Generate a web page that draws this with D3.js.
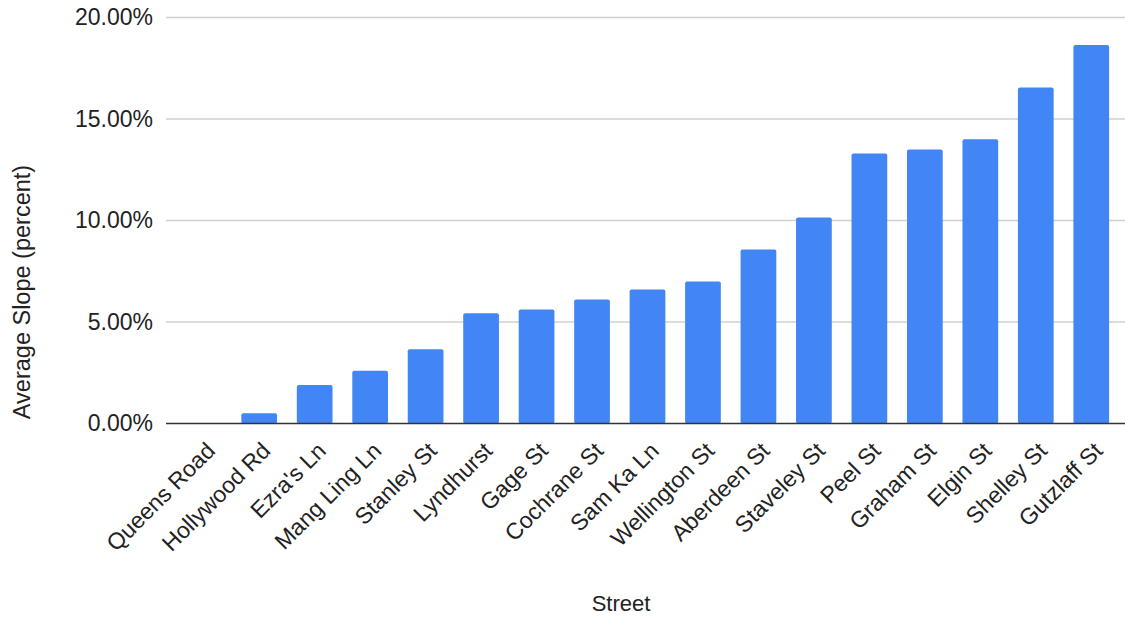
<!DOCTYPE html>
<html>
<head>
<meta charset="utf-8">
<script src="https://cdn.jsdelivr.net/npm/d3@7"></script>
<style>
  body { margin: 0; background: #fff; }
  text { font-family: "Liberation Sans", Arial, sans-serif; fill: #222; }
</style>
</head>
<body>
<div id="chart"></div>
<script>
const streets = ["Queens Road", "Hollywood Rd", "Ezra's Ln", "Mang Ling Ln", "Stanley St", "Lyndhurst",
    "Gage St", "Cochrane St", "Sam Ka Ln", "Wellington St", "Aberdeen St", "Staveley St", "Peel St",
    "Graham St", "Elgin St", "Shelley St", "Gutzlaff St"];
const slopes = [0, 0.50, 1.90, 2.60, 3.66, 5.43, 5.62, 6.11, 6.60, 7.00, 8.57, 10.15, 13.30, 13.50, 14.00, 16.55, 18.64];
const yTicks = [0, 5, 10, 15, 20];

const width = 1125, height = 620;
const margin = {top: 17.5, right: 0, bottom: 196.5, left: 166};

const svg = d3.select("#chart").append("svg")
    .attr("width", width)
    .attr("height", height);

const x = d3.scaleBand()
    .domain(streets)
    .range([176, 1119])
    .paddingInner(0.356)
    .paddingOuter(0.178);

const y = d3.scaleLinear()
    .domain([0, 20])
    .range([height - margin.bottom, margin.top]);

// gridlines
svg.append("g")
    .selectAll("line")
    .data(yTicks.filter(d => d > 0))
    .enter().append("line")
    .attr("x1", margin.left)
    .attr("x2", width)
    .attr("y1", d => y(d))
    .attr("y2", d => y(d))
    .attr("stroke", "#d0d0d0")
    .attr("stroke-width", 1.5);

// y tick labels
const yAxis = d3.axisLeft(y)
    .tickValues(yTicks)
    .tickSize(0)
    .tickPadding(0)
    .tickFormat(d => d.toFixed(2) + "%");

svg.append("g")
    .attr("class", "axis y-axis")
    .attr("transform", "translate(153,0)")
    .call(yAxis)
    .call(g => g.select(".domain").remove())
    .selectAll("text")
    .style("font-size", "23px")
    .attr("fill", "#222");

// bars
svg.selectAll(".bar")
    .data(streets)
    .enter().append("rect")
    .attr("class", "bar")
    .attr("x", d => x(d))
    .attr("y", (d, i) => y(slopes[i]))
    .attr("width", x.bandwidth())
    .attr("height", (d, i) => y(0) - y(slopes[i]))
    .attr("rx", 2)
    .attr("fill", "#4285f4");

// baseline
svg.append("line")
    .attr("x1", margin.left)
    .attr("x2", width)
    .attr("y1", y(0))
    .attr("y2", y(0))
    .attr("stroke", "#333")
    .attr("stroke-width", 1.5);

// x labels
const xAxis = d3.axisBottom(x).tickSize(0).tickPadding(0);

svg.append("g")
    .attr("class", "axis x-axis")
    .attr("transform", "translate(0," + y(0) + ")")
    .call(xAxis)
    .call(g => g.select(".domain").remove())
    .selectAll("text")
    .style("font-size", "23px")
    .attr("fill", "#222")
    .attr("text-anchor", "end")
    .attr("y", 0)
    .attr("dy", "0.35em")
    .attr("transform", "translate(7,23) rotate(-45)");

// axis titles
svg.append("text")
    .attr("x", 621)
    .attr("y", 611)
    .attr("text-anchor", "middle")
    .style("font-size", "22px")
    .text("Street");

svg.append("text")
    .attr("transform", "translate(30,292) rotate(-90)")
    .attr("text-anchor", "middle")
    .style("font-size", "23.5px")
    .text("Average Slope (percent)");
</script>
</body>
</html>
